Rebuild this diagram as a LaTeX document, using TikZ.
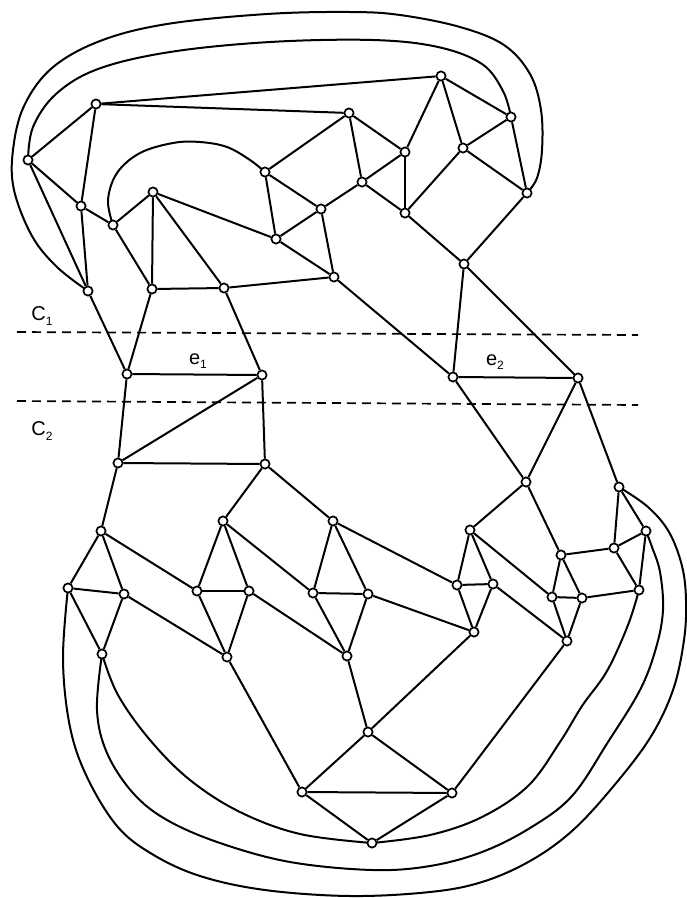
\documentclass[tikz,border=0pt]{standalone}
\usepackage{fontspec}
\setmainfont{Liberation Sans}
\usetikzlibrary{backgrounds}
\newcommand{\mylbl}[3]{{\fontsize{#3}{#3}\selectfont #1}{\fontsize{12}{12}\selectfont\raisebox{-4.5pt}{#2}}}
\begin{document}
\begin{tikzpicture}[x=1pt,y=-1pt,
  vtx/.style={circle,draw,fill=white,line width=1.7pt,minimum size=9.2pt,inner sep=0pt},
  ln/.style={line width=2pt,line join=round},
  cutline/.style={line width=1.7pt,dash pattern=on 9pt off 6pt},
  lab/.style={inner sep=0pt}]
\useasboundingbox (0,0) rectangle (687,898);
\foreach \n/\x/\y in {A1/96/104,A2/28/160,A3/81/206,A4/113/225,A5/153/192,A6/88/291,A7/152/289,A8/224/288,
  B1/265/172,B2/321/209,B3/276/239,B4/334/277,B5/349/113,B6/405/152,B7/362/182,B8/405/213,B9/441/76,
  B10/463/148,B11/511/117,B12/527/193,B13/464/264,
  C1/127/374,C2/262/375,C3/118/463,C4/265/464,
  D1/453/377,D2/578/378,D3/526/482,D4/619/487,
  E1/101/531,E2/68/588,E3/124/594,E4/102/654,
  F1/223/521,F2/197/591,F3/249/591,F4/227/657,
  G1/333/521,G2/313/593,G3/368/594,G4/347/656,
  H1/470/530,H2/457/585,H3/493/584,H4/474/632,
  I1/561/555,I2/552/597,I3/582/598,I4/567/641,
  J1/614/548,J2/646/531,J3/639/590,
  K1/368/732,K2/302/792,K3/452/793,K4/372/843}
  \node[vtx] (\n) at (\x,\y) {};
\begin{pgfonlayer}{background}
\foreach \a/\b in {A1/A2,A1/A3,A1/B5,A1/B9,A2/A3,A2/A6,A3/A4,A3/A6,A4/A5,A4/A7,
  A5/A7,A5/A8,A5/B3,A6/C1,A7/A8,A7/C1,A8/B4,A8/C2,
  B1/B3,B1/B2,B1/B5,B2/B3,B2/B4,B2/B7,B3/B4,B4/D1,B5/B6,B5/B7,B6/B7,B6/B8,B6/B9,
  B7/B8,B8/B10,B8/B13,B9/B10,B9/B11,B10/B11,B10/B12,B11/B12,B12/B13,B13/D1,B13/D2,
  C1/C2,C1/C3,C2/C3,C2/C4,C3/C4,C3/E1,C4/F1,C4/G1,
  D1/D2,D1/D3,D2/D3,D2/D4,D3/H1,D3/I1,D4/J1,D4/J2,
  E1/E2,E1/E3,E1/F2,E2/E3,E2/E4,E3/E4,E3/F4,
  F1/F2,F1/F3,F1/G2,F2/F3,F2/F4,F3/F4,F3/G4,F4/K2,
  G1/G2,G1/G3,G1/H2,G2/G3,G2/G4,G3/G4,G3/H4,G4/K1,
  H1/H2,H1/H3,H1/I2,H2/H3,H2/H4,H3/H4,H3/I4,H4/K1,
  I1/I2,I1/I3,I1/J1,I2/I3,I2/I4,I3/I4,I3/J3,I4/K3,
  J1/J2,J1/J3,J2/J3,K1/K2,K1/K3,K2/K3,K2/K4,K3/K4}
  \draw[ln] (\a) -- (\b);
% curved edges
\draw[ln] plot[smooth,tension=0.6] coordinates {(A6) (57,267) (32,236) (14,190) (13,150) (24,106) (52,68) (100,41) (167,24) (267,14) (350,12) (400,15) (460,27) (504,45) (530,74) (541,110) (542,150) (537,178) (B12)};
\draw[ln] plot[smooth,tension=0.6] coordinates {(A2) (33,127) (56,94) (98,69) (170,52) (270,42) (373,40) (438,47) (482,64) (503,91) (B11)};
\draw[ln] plot[smooth,tension=0.6] coordinates {(A4) (108,200) (117,173) (140,153) (173,143) (200,142) (227,147) (250,160) (B1)};
\draw[ln] plot[smooth,tension=0.6] coordinates {(E2) (63,660) (70,727) (87,777) (117,826) (152,854) (200,876) (265,890) (350,896) (430,892) (482,882) (530,861) (572,831) (612,788) (650,738) (673,690) (684,640) (686,600) (682,566) (669,532) (648,507) (D4)};
\draw[ln] plot[smooth,tension=0.6] coordinates {(E4) (97,710) (107,753) (133,793) (167,820) (220,843) (290,862) (372,870) (430,866) (482,852) (530,828) (572,796) (608,742) (640,690) (656,648) (663,610) (660,572) (652,547) (J2)};
\draw[ln] plot[smooth,tension=0.6] coordinates {(E4) (118,695) (150,740) (190,780) (240,812) (300,834) (K4)};
\draw[ln] plot[smooth,tension=0.6] coordinates {(K4) (430,835) (482,817) (528,786) (560,742) (582,706) (607,671) (628,625) (J3)};
% cut lines
\draw[cutline] (17,332) -- (638,335);
\draw[cutline] (17,401) -- (638,405);
\end{pgfonlayer}
\node[lab] (lc1) at (42,316) {\mylbl{C}{1}{20}};
\node[lab] (lc2) at (42,431) {\mylbl{C}{2}{20}};
\node[lab] (le1) at (198,361) {\mylbl{e}{1}{20}};
\node[lab] (le2) at (495,362) {\mylbl{e}{2}{20}};
\end{tikzpicture}
\end{document}
